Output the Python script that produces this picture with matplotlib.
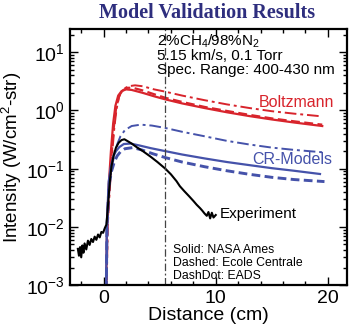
import matplotlib
matplotlib.use("Agg")
import matplotlib.pyplot as plt
from matplotlib.ticker import MultipleLocator, LogLocator

plt.rcParams['font.family'] = ['Liberation Sans', 'DejaVu Sans']
plt.rcParams['mathtext.fontset'] = 'custom'
plt.rcParams['mathtext.rm'] = 'Liberation Sans'
plt.rcParams['mathtext.it'] = 'Liberation Sans:italic'
plt.rcParams['mathtext.bf'] = 'Liberation Sans:bold'

RED = '#d8242c'
BLUE = '#4552aa'

# Boltzmann models
bz_nasa_x = [0.2, 0.3, 0.45, 0.65, 0.85, 1.05, 1.3, 1.6, 2.0, 2.5, 3.5, 4.5, 5.5, 7, 9, 11, 13, 15, 17, 19.5]
bz_nasa_y = [5e-4, 0.01, 0.05, 0.2, 0.6, 1.2, 1.8, 2.15, 2.3, 2.25, 2.0, 1.75, 1.55, 1.32, 1.1, 0.93, 0.8, 0.7, 0.62, 0.54]
bz_ecole_x = [0.22, 0.33, 0.5, 0.7, 0.9, 1.1, 1.35, 1.7, 2.1, 2.6, 3.5, 4.5, 5.5, 7, 9, 11, 13, 15, 17, 19.5]
bz_ecole_y = [5e-4, 0.01, 0.045, 0.17, 0.5, 1.05, 1.7, 2.2, 2.45, 2.45, 2.2, 1.9, 1.65, 1.4, 1.15, 0.98, 0.84, 0.73, 0.65, 0.57]
bz_eads_x = [0.25, 0.36, 0.55, 0.75, 0.95, 1.15, 1.4, 1.8, 2.2, 2.8, 3.5, 4.5, 5.5, 7, 9, 11, 13, 15, 17, 19.5]
bz_eads_y = [5e-4, 0.01, 0.045, 0.17, 0.5, 1.05, 1.8, 2.35, 2.6, 2.7, 2.6, 2.3, 2.1, 1.8, 1.5, 1.27, 1.1, 0.97, 0.88, 0.79]

# CR models
cr_nasa_x = [0.2, 0.28, 0.45, 0.65, 0.85, 1.1, 1.4, 1.8, 2.4, 3.2, 4.2, 5.5, 7, 9, 11, 13, 15, 17, 19.3]
cr_nasa_y = [5e-4, 0.01, 0.06, 0.11, 0.16, 0.2, 0.235, 0.265, 0.27, 0.25, 0.225, 0.2, 0.175, 0.15, 0.13, 0.115, 0.102, 0.092, 0.081]
cr_ecole_x = [0.22, 0.3, 0.47, 0.7, 0.95, 1.2, 1.5, 1.9, 2.6, 3.4, 4.4, 5.5, 7, 9, 11, 13, 15, 17, 19.7]
cr_ecole_y = [5e-4, 0.01, 0.05, 0.09, 0.13, 0.165, 0.195, 0.22, 0.23, 0.21, 0.18, 0.155, 0.13, 0.108, 0.092, 0.08, 0.071, 0.065, 0.06]
cr_eads_x = [0.25, 0.33, 0.5, 0.7, 0.95, 1.2, 1.5, 1.9, 2.5, 3.3, 4.3, 5.5, 7, 9, 11, 13, 15, 17, 19.7]
cr_eads_y = [5e-4, 0.01, 0.05, 0.1, 0.17, 0.26, 0.36, 0.46, 0.54, 0.57, 0.55, 0.5, 0.43, 0.36, 0.3, 0.26, 0.23, 0.21, 0.19]

# experiment
exp_x = [-2.3, -2.2, -2.1, -2.0, -1.9, -1.8, -1.7, -1.55, -1.4, -1.25, -1.1, -0.95, -0.8, -0.65, -0.5,
         -0.35, -0.2, -0.05, 0.1, 0.25, 0.4, 0.55, 0.7, 0.9, 1.1, 1.35, 1.6, 1.85, 2.1, 2.5, 3.0, 3.5,
         4.2, 4.8, 5.5, 6.0, 6.5, 6.8, 7.2, 7.6, 8.0, 8.3, 8.6, 8.8, 9.0, 9.2, 9.35, 9.5, 9.65, 9.8, 10.0]
exp_y = [0.0042, 0.0032, 0.0045, 0.0030, 0.0048, 0.0036, 0.0052, 0.0041, 0.0058, 0.0049, 0.0062, 0.0055, 0.0068, 0.0060, 0.0074,
         0.0066, 0.0082, 0.0079, 0.0095, 0.011, 0.025, 0.06, 0.11, 0.17, 0.23, 0.28, 0.31, 0.32, 0.30, 0.27, 0.23, 0.2,
         0.16, 0.13, 0.1, 0.08, 0.061, 0.05, 0.041, 0.034, 0.028, 0.024, 0.021, 0.019, 0.017, 0.0155, 0.018, 0.014, 0.0175, 0.0145, 0.016]

fig = plt.figure(figsize=(3.49, 3.30), dpi=100)
ax = fig.add_axes([0.2006, 0.136, 0.7934, 0.776])

ax.plot(bz_nasa_x, bz_nasa_y, color=RED, lw=1.6)
ax.plot(bz_ecole_x, bz_ecole_y, color=RED, lw=1.6, dashes=(4, 2))
ax.plot(bz_eads_x, bz_eads_y, color=RED, lw=1.4, dashes=(6, 2, 1.5, 2))
ax.plot(cr_nasa_x, cr_nasa_y, color=BLUE, lw=1.6)
ax.plot(cr_ecole_x, cr_ecole_y, color=BLUE, lw=2.1, dashes=(3, 1.5))
ax.plot(cr_eads_x, cr_eads_y, color=BLUE, lw=1.4, dashes=(6, 2, 1.5, 2))
ax.plot(exp_x, exp_y, color='black', lw=1.5)

ax.axvline(5.5, color='#444444', lw=0.9, dashes=(6, 2, 1.5, 2))

ax.set_yscale('log')
ax.set_xlim(-3, 21.7)
ax.set_ylim(1e-3, 25)
ax.xaxis.set_major_locator(MultipleLocator(10))
ax.xaxis.set_minor_locator(MultipleLocator(2))
ax.yaxis.set_major_locator(LogLocator(base=10, numticks=10))
ax.yaxis.set_minor_locator(LogLocator(base=10, subs=range(2, 10), numticks=20))
ax.tick_params(which='both', direction='in', top=True, right=True, width=1)
ax.tick_params(which='major', length=6, labelsize=14)
ax.tick_params(which='minor', length=3, labelright=False)
for s in ax.spines.values():
    s.set_linewidth(1.6)

ax.set_xlabel('Distance (cm)', fontsize=14, labelpad=0)
ax.set_ylabel('Intensity (W/cm$^2$-str)', fontsize=13.5, labelpad=2)

fig.text(0.593, 0.962, 'Model Validation Results', ha='center', va='center',
         family='Liberation Serif', fontweight='bold', fontsize=14.5, color='#2e2e7e')

ax.text(4.8, 15.5, '2%CH$_4$/98%N$_2$', fontsize=11, va='center')
ax.text(4.8, 8.5, '5.15 km/s, 0.1 Torr', fontsize=11, va='center')
ax.text(4.8, 5.0, 'Spec. Range: 400-430 nm', fontsize=11, va='center')
ax.text(20.6, 1.38, 'Boltzmann', color=RED, fontsize=11.5, ha='right', va='center')
ax.text(20.4, 0.143, 'CR-Models', color=BLUE, fontsize=11.5, ha='right', va='center')
ax.text(10.4, 0.0165, 'Experiment', fontsize=11, va='center')
ax.text(6.2, 0.0040, 'Solid: NASA Ames', fontsize=8.8, va='center')
ax.text(6.2, 0.0024, 'Dashed: Ecole Centrale', fontsize=8.8, va='center')
ax.text(6.2, 0.00145, 'DashDot: EADS', fontsize=8.8, va='center')

fig.savefig('out.png', dpi=100)
